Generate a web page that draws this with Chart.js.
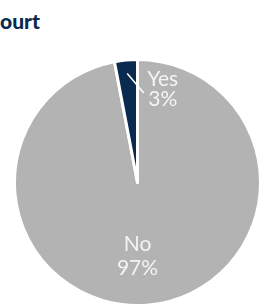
<!DOCTYPE html>
<html>
<head>
<meta charset="utf-8">
<script src="https://cdn.jsdelivr.net/npm/chart.js@4/dist/chart.umd.min.js"></script>
<style>
  html, body { margin: 0; padding: 0; background: #fff; width: 273px; height: 305px; overflow: hidden; }
  #title { position: absolute; left: 0; top: 8px; font-family: Lato, sans-serif; font-weight: 900; font-size: 21px; color: #0b2a4f; white-space: nowrap; }
  #wrap { position: absolute; left: 13px; top: 58px; width: 249px; height: 249px; }
</style>
</head>
<body>
<div id="title">ourt</div>
<div id="wrap"><canvas id="pie"></canvas></div>
<script>
// data
var labels = ['No', 'Yes']
var values = [97, 3]
var colors = ['#b3b3b3', '#0b2a4f']

// draws the "label / percent" text on the slices
var sliceLabels = {
    id: 'sliceLabels',
    afterDatasetsDraw(chart) {
        var ctx = chart.ctx
        var arcs = chart.getDatasetMeta(0).data
        var total = values.reduce((a, b) => a + b, 0)
        ctx.save()
        ctx.fillStyle = '#f4f4f4'
        ctx.strokeStyle = '#ffffff'
        ctx.font = '21px Lato, sans-serif'
        ctx.textAlign = 'center'
        ctx.textBaseline = 'middle'
        arcs.forEach((arc, i) => {
            var p = arc.getProps(['x', 'y', 'startAngle', 'endAngle', 'outerRadius'], true)
            var R = p.outerRadius
            var pct = Math.round(values[i] / total * 100) + '%'
            if (values[i] / total > 0.1) {
                var ty = p.y + R * 0.6
                ctx.fillText(labels[i], p.x, ty - 12)
                ctx.fillText(pct, p.x, ty + 12)
            } else {
                // small slice: label sits outside with a leader line
                var mid = (p.startAngle + p.endAngle) / 2
                ctx.lineWidth = 1.5
                ctx.beginPath()
                ctx.moveTo(p.x + Math.cos(mid) * R * 0.89, p.y + Math.sin(mid) * R * 0.89)
                var a2 = p.endAngle + 0.07
                ctx.lineTo(p.x + Math.cos(a2) * R * 0.73, p.y + Math.sin(a2) * R * 0.73)
                ctx.stroke()
                var lx = p.x + R * 0.205
                var ly = p.y - R * 0.755
                ctx.fillText(labels[i], lx, ly - 10)
                ctx.fillText(pct, lx, ly + 10)
            }
        })
        ctx.restore()
    }
}

const chart1 = document.getElementById('pie').getContext('2d')
const myChart1 = new Chart(chart1, {
    type: 'pie',
    data: {
        labels: labels,
        datasets: [{
            data: values,
            backgroundColor: colors,
            borderColor: '#ffffff',
            borderWidth: 3,
            borderJoinStyle: 'round'
        }]
    },
    options: {
        responsive: true,
        maintainAspectRatio: false,
        animation: false,
        layout: { padding: 0 },
        plugins: {
            legend: { display: false },
            tooltip: { enabled: false }
        }
    },
    plugins: [sliceLabels]
})
</script>
</body>
</html>
